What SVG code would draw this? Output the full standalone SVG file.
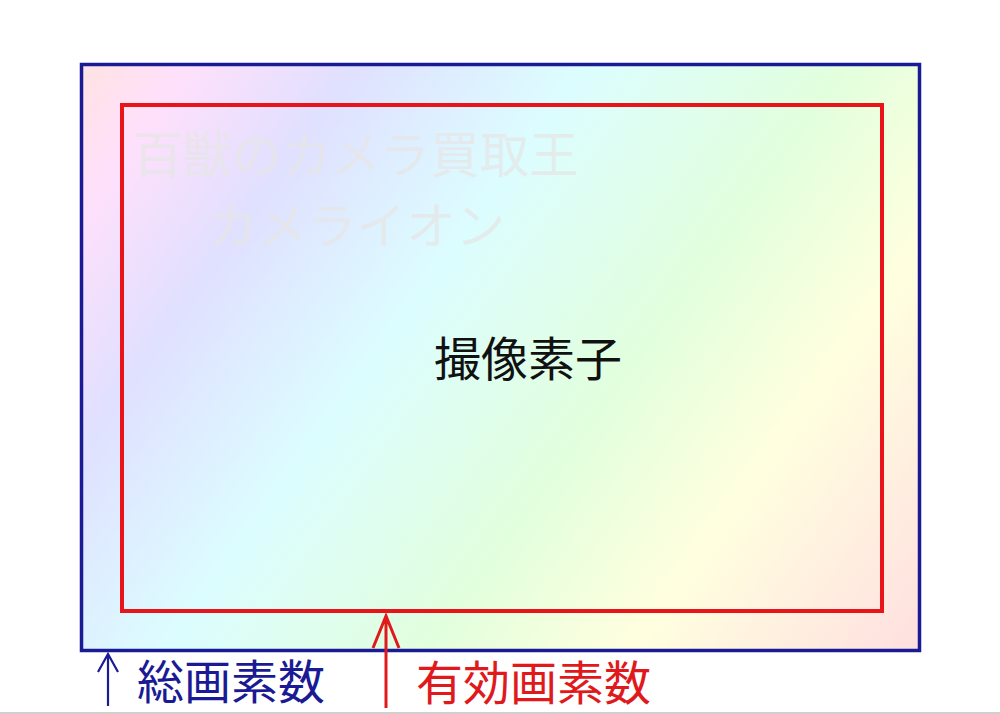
<svg xmlns="http://www.w3.org/2000/svg" width="1000" height="714" viewBox="0 0 1000 714">
  <defs>
    <linearGradient id="rainbow" gradientUnits="userSpaceOnUse" x1="80" y1="63" x2="913" y2="660">
      <stop offset="0" stop-color="#ffe2e2"/>
      <stop offset="0.085" stop-color="#ffe0fb"/>
      <stop offset="0.22" stop-color="#e0e0ff"/>
      <stop offset="0.4" stop-color="#dcfdff"/>
      <stop offset="0.61" stop-color="#e2ffdd"/>
      <stop offset="0.77" stop-color="#ffffdf"/>
      <stop offset="1" stop-color="#ffdfe0"/>
    </linearGradient>
    <style>
      .jp { font-family: "Noto Sans CJK JP", "Noto Sans", sans-serif; }
      .frame-blue { fill: url(#rainbow); stroke: #1a1a94; stroke-width: 3.5; }
      .frame-red { fill: none; stroke: #e8141a; stroke-width: 4; }
      .watermark { fill: #e6e6e6; fill-opacity: 0.75; font-size: 49.5px; }
      .arrow-blue { fill: none; stroke: #1a1a94; stroke-width: 2.2; }
      .arrow-red { fill: none; stroke: #e0191c; stroke-width: 3; }
    </style>
  </defs>
  <rect x="0" y="0" width="1000" height="714" fill="#ffffff"/>
  <g id="total-pixels-frame">
    <rect class="frame-blue" x="81.5" y="64.5" width="838" height="586"/>
  </g>
  <g id="watermark">
    <text class="jp watermark" x="133" y="173">百獣のカメラ買取王</text>
    <text class="jp watermark" x="208" y="244">カメライオン</text>
  </g>
  <g id="effective-pixels-frame">
    <rect class="frame-red" x="122" y="105" width="760" height="506"/>
    <text class="jp" x="528" y="376" font-size="47" text-anchor="middle" fill="#111111">撮像素子</text>
  </g>
  <g id="connectors">
    <path class="arrow-blue" d="M108 706 V654 M98 672 L108 654 L118 672"/>
    <path class="arrow-red" d="M386 708 V616 M373 648 L386 616 L399 648"/>
  </g>
  <g id="label-total">
    <text class="jp" x="137" y="699" font-size="47" fill="#1a1a94">総画素数</text>
  </g>
  <g id="label-effective">
    <text class="jp" x="416" y="700" font-size="47" fill="#e0191c">有効画素数</text>
  </g>
  <line x1="0" y1="713" x2="1000" y2="713" stroke="#cfcfcf" stroke-width="2"/>
</svg>
